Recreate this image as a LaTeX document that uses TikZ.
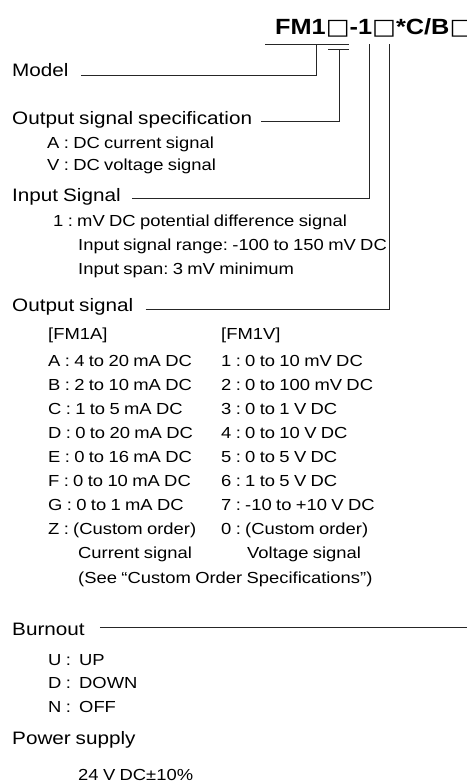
\documentclass[tikz,border=0pt]{standalone}
\usepackage{fontspec}
\setmainfont{Liberation Sans}[FakeStretch=1.15, WordSpace=0.85]
\newfontfamily\boxfont{DejaVu Sans}[FakeStretch=1.15]
\newcommand\slot{{\boxfont\mdseries □}}
\usetikzlibrary{positioning}

\begin{document}
\frenchspacing
\begin{tikzpicture}[
    x=1pt, y=-1pt,
    codetext/.style={anchor=base west, inner sep=0pt, font=\fontsize{22}{26}\selectfont\bfseries},
    head/.style={anchor=base west, inner sep=0pt, font=\fontsize{18}{21}\selectfont},
    item/.style={anchor=base west, inner sep=0pt, font=\fontsize{16}{19}\selectfont},
    line/.style={draw, black!85, line width=0.9pt}
    ]
    \useasboundingbox (0,0) rectangle (466,784);

    % model code
    \node [codetext] (code) at (275,34.3) {FM1\slot-1\slot*C/B\slot};
    \coordinate (fmleft) at (265,44.7);
    \coordinate (fmright) at (349,44.7);
    \coordinate (sigleft) at (328,49);
    \coordinate (sigright) at (349,49);
    \coordinate (modeltop) at (316,44.7);
    \coordinate (spectop) at (339,49);
    \coordinate (inputtop) at (369,44.3);
    \coordinate (outputtop) at (389,44.3);
    \coordinate (burnoutend) at (470,0);

    % headings and items
    \node [head] (model) at (12,77) {Model};
    \node [head] (outspec) at (12,124.5) {Output signal specification};
    \node [item] (outA) at (47,148) {A : DC current signal};
    \node [item] (outV) at (47,170) {V : DC voltage signal};
    \node [head] (input) at (12,201) {Input Signal};
    \node [item] (in1) at (53,226.7) {1 : mV DC potential difference signal};
    \node [item] (inrange) at (78,250.7) {Input signal range: -100 to 150 mV DC};
    \node [item] (inspan) at (78,274) {Input span: 3 mV minimum};
    \node [head] (output) at (12,311.7) {Output signal};
    \node [item] (fma) at (48,339.5) {[FM1A]};
    \node [item] (fmv) at (221,339.5) {[FM1V]};
    \foreach \a/\v [count=\i from 0] in {
        A : 4 to 20 mA DC/1 : 0 to 10 mV DC,
        B : 2 to 10 mA DC/2 : 0 to 100 mV DC,
        C : 1 to 5 mA DC/3 : 0 to 1 V DC,
        D : 0 to 20 mA DC/4 : 0 to 10 V DC,
        E : 0 to 16 mA DC/5 : 0 to 5 V DC,
        F : 0 to 10 mA DC/6 : 1 to 5 V DC,
        G : 0 to 1 mA DC/7 : -10 to +10 V DC,
        Z : (Custom order)/0 : (Custom order)}
    {
        \node [item] (a\i) at (48,366.7+24*\i) {\a};
        \node [item] (v\i) at (221,366.7+24*\i) {\v};
    }
    \node [item] (cur) at (78,558.3) {Current signal};
    \node [item] (volt) at (247,558.3) {Voltage signal};
    \node [item] (see) at (78,583) {(See “Custom Order Specifications”)};
    \node [head] (burnout) at (12,635) {Burnout};
    \node [item] (bu) at (48,665) {\makebox[31pt][l]{U :}UP};
    \node [item] (bd) at (48,688.3) {\makebox[31pt][l]{D :}DOWN};
    \node [item] (bn) at (48,712.7) {\makebox[31pt][l]{N :}OFF};
    \node [head] (power) at (12,744.5) {Power supply};
    \node [item] (supply) at (78,780) {24 V DC±10\%};

    % brackets under the code
    \path [line] (fmleft) -- (fmright);
    \path [line] (sigleft) -- (sigright);

    % leader lines
    \path [line] ([xshift=12pt,yshift=-1.5pt]model.mid east) -| (modeltop);
    \path [line] ([xshift=9pt]outspec.mid east) -| (spectop);
    \path [line] ([xshift=11pt]input.mid east) -| (inputtop);
    \path [line] ([xshift=12pt]output.mid east) -| (outputtop);
    \path [line] ([xshift=15pt,yshift=5pt]burnout.mid east) -- ([yshift=5pt]burnout.mid east -| burnoutend);
\end{tikzpicture}
\end{document}
